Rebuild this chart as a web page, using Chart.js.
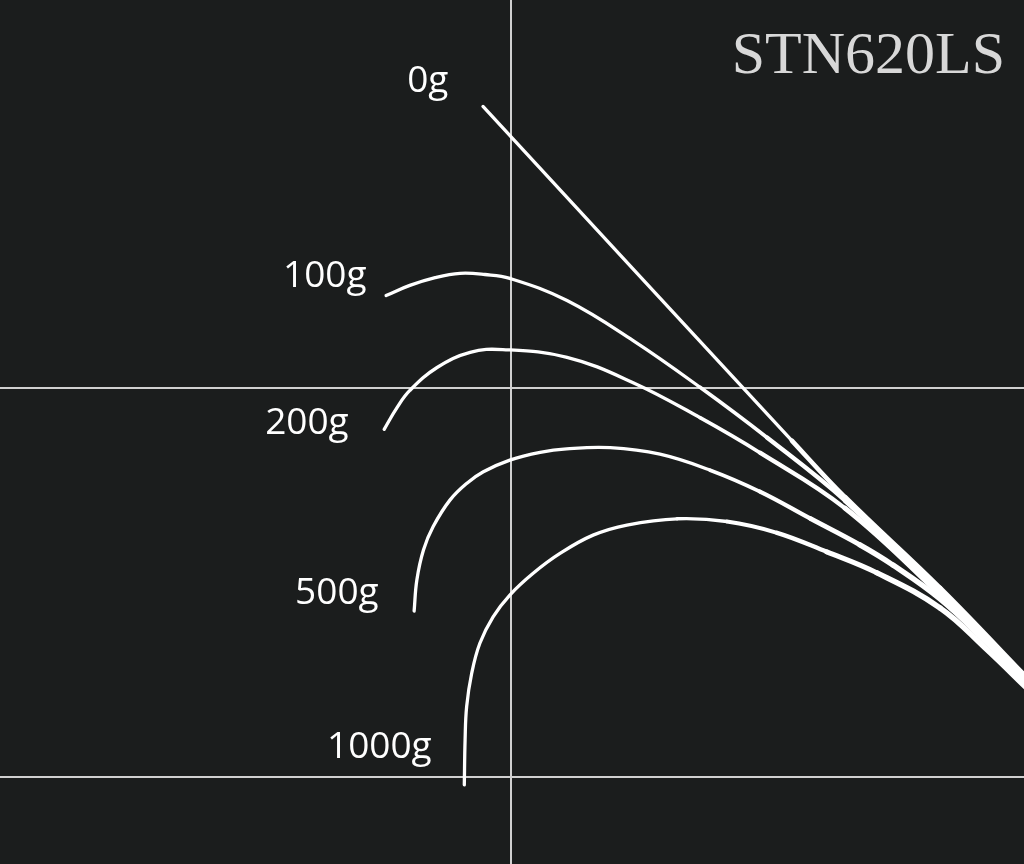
<!DOCTYPE html>
<html>
<head>
<meta charset="utf-8">
<script src="https://cdn.jsdelivr.net/npm/chart.js@4.4.1/dist/chart.umd.min.js"></script>
<style>
  html, body { margin: 0; padding: 0; background: #1b1d1d; }
  #wrap { width: 1024px; height: 864px; position: relative; }
</style>
</head>
<body>
<div id="wrap"><canvas id="bendChart"></canvas></div>
<script>
// rod bend under load, units: 100 = distance between the two horizontal lines
const chartTitle = 'STN620LS';
const loadNames = ['0g', '100g', '200g', '500g', '1000g'];
const xGrid = [0];
const yGrid = [0, 100];

const load0 = [
  {x: -7.2, y: 172.5}, {x: 72.2, y: 86.6}, {x: 85.9, y: 72.0},
  {x: 110.3, y: 48.6}, {x: 133.4, y: 24.7}
];
const load100 = [
  {x: -32.1, y: 123.9}, {x: -26.0, y: 126.5}, {x: -19.5, y: 128.5}, {x: -13.1, y: 129.6},
  {x: -6.7, y: 129.3}, {x: -0.3, y: 128.3}, {x: 14.4, y: 122.6}, {x: 31.4, y: 112.3},
  {x: 48.6, y: 100.3}, {x: 65.8, y: 87.4}, {x: 85.9, y: 71.2}, {x: 110.3, y: 47.8},
  {x: 121.9, y: 36.2}, {x: 133.4, y: 24.4}
];
const load200 = [
  {x: -32.6, y: 89.5}, {x: -29.3, y: 95.1}, {x: -26.0, y: 99.5}, {x: -19.0, y: 105.4},
  {x: -10.5, y: 109.3}, {x: -2.1, y: 110.0}, {x: 14.4, y: 108.0}, {x: 31.4, y: 101.5},
  {x: 48.6, y: 92.5}, {x: 64.0, y: 83.5}, {x: 85.9, y: 69.2}, {x: 110.3, y: 47.0},
  {x: 121.9, y: 35.7}, {x: 133.4, y: 23.9}
];
const load500 = [
  {x: -24.9, y: 42.8}, {x: -24.2, y: 50.8}, {x: -22.5, y: 58.5}, {x: -20.0, y: 64.5},
  {x: -15.7, y: 71.3}, {x: -11.4, y: 75.6}, {x: -7.1, y: 78.6}, {x: -0.3, y: 81.6},
  {x: 7.5, y: 83.6}, {x: 14.3, y: 84.5}, {x: 25.5, y: 84.8}, {x: 38.3, y: 83.1},
  {x: 51.2, y: 79.0}, {x: 64.0, y: 73.5}, {x: 76.9, y: 66.6}, {x: 89.7, y: 59.8},
  {x: 98.2, y: 54.6}, {x: 110.3, y: 45.9}, {x: 121.9, y: 35.1}, {x: 133.4, y: 23.5}
];
const load1000 = [
  {x: -12.0, y: -1.9}, {x: -11.8, y: 9.6}, {x: -11.4, y: 18.2}, {x: -10.1, y: 26.8},
  {x: -8.0, y: 34.5}, {x: -4.6, y: 41.3}, {x: -0.3, y: 46.9}, {x: 5.7, y: 52.5},
  {x: 12.6, y: 57.6}, {x: 21.1, y: 62.3}, {x: 29.8, y: 64.9}, {x: 42.7, y: 66.5},
  {x: 55.5, y: 65.8}, {x: 68.4, y: 62.9}, {x: 81.2, y: 58.0}, {x: 94.1, y: 52.6},
  {x: 110.3, y: 43.6}, {x: 121.9, y: 33.3}, {x: 133.4, y: 22.2}
];

// where each load name sits (left edge, baseline)
const labelX = [-26.7, -58.6, -63.2, -55.5, -47.3];
const labelY = [176.1, 126.0, 88.4, 44.7, 5.1];

const curves = [load0, load100, load200, load500, load1000];

// the blank gets thicker toward the butt
function segWidth(ctx) {
  const x = ctx.p0.parsed.x;
  if (x < 40) return 3.3;
  return Math.min(5.5, 3.3 + (x - 40) / 25);
}

const datasets = curves.map(function (pts, i) {
  return {
    label: loadNames[i],
    data: pts,
    borderColor: '#ffffff',
    borderWidth: 3.3,
    borderCapStyle: 'round',
    borderJoinStyle: 'round',
    pointRadius: 0,
    tension: 0.4,
    fill: false,
    segment: { borderWidth: segWidth }
  };
});

const decor = {
  id: 'decor',
  beforeDraw(chart) {
    const c = chart.ctx;
    c.save();
    c.fillStyle = '#1b1d1d';
    c.fillRect(0, 0, chart.width, chart.height);
    c.restore();
  },
  afterDatasetsDraw(chart) {
    const c = chart.ctx;
    const xs = chart.scales.x, ys = chart.scales.y;
    c.save();
    c.fillStyle = '#ffffff';
    c.font = '37px "Open Sans", "Noto Sans", sans-serif';
    c.textAlign = 'left';
    c.textBaseline = 'alphabetic';
    loadNames.forEach(function (name, i) {
      c.fillText(name, xs.getPixelForValue(labelX[i]), ys.getPixelForValue(labelY[i]));
    });
    c.fillStyle = '#d8d8d8';
    c.font = '60px "Liberation Serif", "DejaVu Serif", serif';
    c.textAlign = 'right';
    c.fillText(chartTitle, 1005, 73);
    c.restore();
  }
};

new Chart(document.getElementById('bendChart'), {
  type: 'line',
  data: { datasets: datasets },
  options: {
    responsive: true,
    maintainAspectRatio: false,
    animation: false,
    layout: { padding: 0 },
    plugins: {
      legend: { display: false },
      tooltip: { enabled: false },
      title: { display: false }
    },
    scales: {
      x: {
        type: 'linear',
        min: -131.36,
        max: 131.88,
        afterBuildTicks: function (scale) {
          scale.ticks = xGrid.map(function (v) { return {value: v}; });
        },
        ticks: { display: false },
        border: { display: false },
        grid: { color: '#d0d0d0', lineWidth: 2, drawTicks: false }
      },
      y: {
        type: 'linear',
        min: -22.24,
        max: 199.87,
        afterBuildTicks: function (scale) {
          scale.ticks = yGrid.map(function (v) { return {value: v}; });
        },
        ticks: { display: false },
        border: { display: false },
        grid: { color: '#d0d0d0', lineWidth: 2, drawTicks: false }
      }
    }
  },
  plugins: [decor]
});
</script>
</body>
</html>
